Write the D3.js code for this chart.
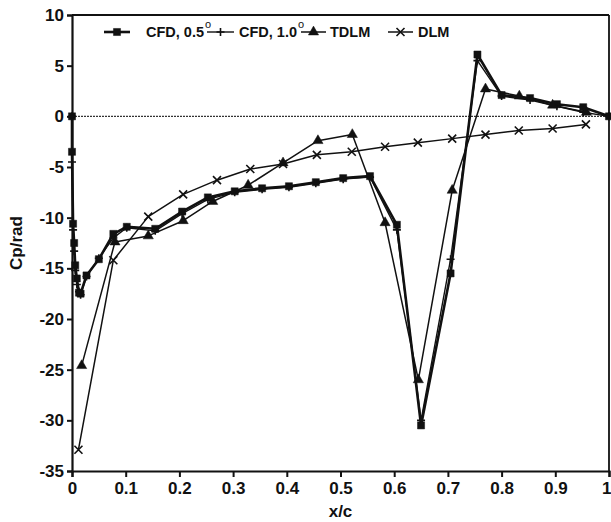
<!DOCTYPE html>
<html>
<head>
<meta charset="utf-8">
<script src="https://cdn.jsdelivr.net/npm/d3@7"></script>
<style>
  body { margin: 0; background: #fff; }
  svg { display: block; }
  text { font-family: "Liberation Sans", Arial, Helvetica, sans-serif; font-weight: bold; fill: #111; }
</style>
</head>
<body>
<div id="chart"></div>
<script>
// CFD, 0.5 deg (squares)
var cfd05X = [0, 0, 0.002, 0.004, 0.006, 0.009, 0.013, 0.016, 0.027, 0.05, 0.077, 0.102, 0.155, 0.205, 0.253, 0.303, 0.354, 0.404, 0.454, 0.505, 0.555, 0.605, 0.65, 0.705, 0.755, 0.80, 0.853, 0.903, 0.952, 1.0];
var cfd05Y = [0, -3.5, -10.6, -12.5, -14.7, -16.0, -17.4, -17.5, -15.7, -14.1, -11.6, -10.9, -11.1, -9.4, -8.0, -7.4, -7.1, -6.9, -6.5, -6.1, -5.9, -10.7, -30.5, -15.5, 6.1, 2.1, 1.8, 1.2, 0.9, 0];
// CFD, 1.0 deg (plus)
var cfd10X = cfd05X;
var cfd10Y = [0, -4.5, -11.2, -13.3, -15.2, -16.6, -17.3, -17.6, -15.8, -14.0, -12.0, -11.0, -11.3, -9.6, -8.2, -7.5, -7.2, -7.0, -6.6, -6.2, -6.0, -11.2, -30.0, -14.1, 5.5, 2.0, 1.6, 1.0, 0.4, 0];
// TDLM (triangles)
var tdlmX = [0.018, 0.08, 0.142, 0.207, 0.262, 0.328, 0.393, 0.458, 0.522, 0.583, 0.645, 0.708, 0.77, 0.833, 0.895, 0.958];
var tdlmY = [-24.6, -12.4, -11.8, -10.3, -8.4, -6.8, -4.6, -2.4, -1.8, -10.5, -26.0, -7.3, 2.7, 2.0, 1.1, 0.4];
// DLM (x marks)
var dlmX = [0.012, 0.077, 0.142, 0.207, 0.27, 0.332, 0.393, 0.456, 0.521, 0.583, 0.644, 0.708, 0.77, 0.832, 0.895, 0.957];
var dlmY = [-32.9, -14.2, -9.9, -7.7, -6.3, -5.2, -4.7, -3.8, -3.5, -3.0, -2.6, -2.2, -1.8, -1.4, -1.2, -0.8];

var xTicks = [0, 0.1, 0.2, 0.3, 0.4, 0.5, 0.6, 0.7, 0.8, 0.9, 1];
var yTicks = [-35, -30, -25, -20, -15, -10, -5, 0, 5, 10];

var W = 611, H = 522;
var m = {left: 72, right: 2, top: 15, bottom: 51};

var svg = d3.select("#chart").append("svg")
    .attr("width", W)
    .attr("height", H);

var x = d3.scaleLinear().domain([0, 1]).range([m.left, W - m.right]);
var y = d3.scaleLinear().domain([-35, 10]).range([H - m.bottom, m.top]);

function zip(xs, ys) { return xs.map(function(v, i) { return [v, ys[i]]; }); }

var series = [
  {name: "CFD, 0.5", deg: true, pts: zip(cfd05X, cfd05Y), mark: "square", lw: 2.6},
  {name: "CFD, 1.0", deg: true, pts: zip(cfd10X, cfd10Y), mark: "plus", lw: 1.4},
  {name: "TDLM", deg: false, pts: zip(tdlmX, tdlmY), mark: "triangle", lw: 1.5},
  {name: "DLM", deg: false, pts: zip(dlmX, dlmY), mark: "cross", lw: 1.5}
];

// zero line
svg.append("line")
    .attr("x1", x(0)).attr("x2", x(1))
    .attr("y1", y(0)).attr("y2", y(0))
    .attr("stroke", "#333").attr("stroke-width", 1.3)
    .attr("stroke-dasharray", "2,1");

// frame top + right
svg.append("line")
    .attr("x1", x(0)).attr("x2", x(1)).attr("y1", y(10)).attr("y2", y(10))
    .attr("stroke", "#111").attr("stroke-width", 1.8);
svg.append("line")
    .attr("x1", x(1)).attr("x2", x(1)).attr("y1", y(10)).attr("y2", y(-35))
    .attr("stroke", "#111").attr("stroke-width", 1.8);

// axes
var gx = svg.append("g")
    .attr("transform", "translate(0," + y(-35) + ")")
    .call(d3.axisBottom(x).tickValues(xTicks).tickSize(6).tickPadding(5).tickFormat(function(d) { return d; }));
var gy = svg.append("g")
    .attr("transform", "translate(" + x(0) + ",0)")
    .call(d3.axisLeft(y).tickValues(yTicks).tickSize(5).tickPadding(3).tickFormat(function(d) { return d; }));
[gx, gy].forEach(function(g) {
  g.select(".domain").attr("stroke", "#111").attr("stroke-width", 2.2);
  g.selectAll(".tick line").attr("stroke", "#111").attr("stroke-width", 2);
  g.selectAll(".tick text").style("font-size", "17px").style("font-weight", "bold")
    .style("font-family", "'Liberation Sans', Arial, sans-serif").attr("fill", "#111");
});
// last x label sits against the right edge
gx.selectAll(".tick text").filter(function(d) { return d === 1; })
    .attr("text-anchor", "end").attr("x", 2);

// axis titles
svg.append("text")
    .attr("x", x(0.5)).attr("y", 517)
    .attr("text-anchor", "middle")
    .style("font-size", "17px")
    .text("x/c");
svg.append("text")
    .attr("transform", "translate(22," + y(-12.5) + ") rotate(-90)")
    .attr("text-anchor", "middle")
    .style("font-size", "17px")
    .text("Cp/rad");

function markPath(type) {
  if (type === "square") return d3.symbol().type(d3.symbolSquare).size(50)();
  if (type === "triangle") return d3.symbol().type(d3.symbolTriangle).size(45)();
  if (type === "plus") return "M-4,0L4,0M0,-4L0,4";
  return "M-4,-4L4,4M-4,4L4,-4";
}

var line = d3.line().x(function(d) { return x(d[0]); }).y(function(d) { return y(d[1]); });

series.forEach(function(s) {
  svg.append("path")
      .datum(s.pts)
      .attr("d", line)
      .attr("fill", "none")
      .attr("stroke", "#111")
      .attr("stroke-width", s.lw)
      .attr("stroke-linejoin", "round");
  svg.selectAll(null)
      .data(s.pts)
      .enter().append("path")
      .attr("transform", function(d) { return "translate(" + x(d[0]) + "," + y(d[1]) + ")"; })
      .attr("d", markPath(s.mark))
      .attr("fill", "#111")
      .attr("stroke", "#111")
      .attr("stroke-width", (s.mark === "plus" || s.mark === "cross") ? 1.6 : 0.5);
});

// legend
var legendItems = [
  {s: series[0], x1: 104, x2: 130, tx: 146},
  {s: series[1], x1: 207, x2: 234, tx: 239},
  {s: series[2], x1: 301, x2: 326, tx: 330},
  {s: series[3], x1: 388, x2: 413, tx: 418}
];
var ly = 32;
legendItems.forEach(function(it) {
  svg.append("line")
      .attr("x1", it.x1).attr("x2", it.x2).attr("y1", ly).attr("y2", ly)
      .attr("stroke", "#111").attr("stroke-width", it.s.lw);
  svg.append("path")
      .attr("transform", "translate(" + ((it.x1 + it.x2) / 2) + "," + ly + ")")
      .attr("d", markPath(it.s.mark))
      .attr("fill", "#111").attr("stroke", "#111")
      .attr("stroke-width", (it.s.mark === "plus" || it.s.mark === "cross") ? 1.6 : 0.5);
  var t = svg.append("text")
      .attr("x", it.tx).attr("y", ly + 5)
      .style("font-size", "14.5px")
      .text(it.s.name);
  if (it.s.deg) {
    t.append("tspan").attr("dy", -9).attr("dx", 1).style("font-size", "11px").style("font-weight", "normal").text("o");
  }
});
</script>
</body>
</html>
